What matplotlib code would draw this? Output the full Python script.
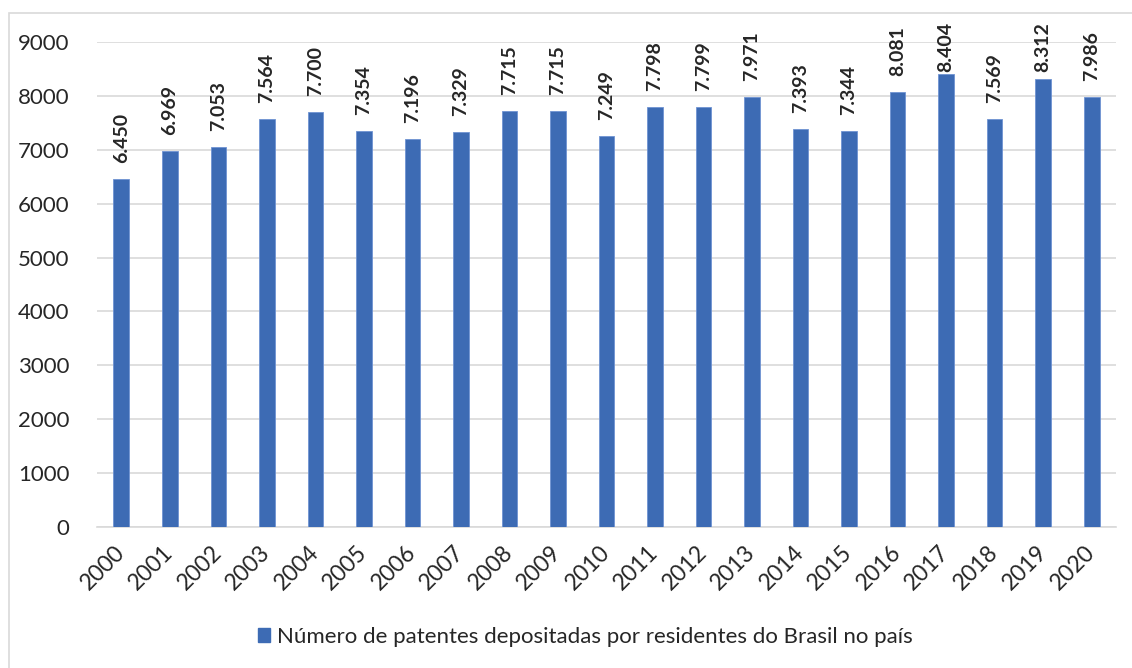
import matplotlib
matplotlib.use("Agg")
import matplotlib.pyplot as plt
import matplotlib.patches as mpatches
import numpy as np

plt.rcParams['font.family'] = ['Lato', 'DejaVu Sans']

# data
years = [str(y) for y in range(2000, 2021)]
patentes = [6450, 6969, 7053, 7564, 7700, 7354, 7196, 7329, 7715, 7715,
            7249, 7798, 7799, 7971, 7393, 7344, 8081, 8404, 7569, 8312, 7986]
legend_label = "Número de patentes depositadas por residentes do Brasil no país"
yticks = [0, 1000, 2000, 3000, 4000, 5000, 6000, 7000, 8000, 9000]

BAR_COLOR = "#3D6BB4"
GRID_COLOR = "#d9d9d9"
TEXT_COLOR = "#262626"

W, H = 1132, 668
DPI = 100
fig = plt.figure(figsize=(W / DPI, H / DPI), dpi=DPI)

# outer chart frame (only left & top edges visible in the reference)
fig.add_artist(mpatches.Rectangle((9 / W, -0.05), 1.2, 1 - 13 / H + 0.05,
                                  transform=fig.transFigure, fill=False,
                                  edgecolor=GRID_COLOR, linewidth=1.2))

ax = fig.add_axes([97 / W, 1 - 527 / H, (1116 - 97) / W, (527 - 42) / H])

x = np.arange(len(years))
bars = ax.bar(x, patentes, width=0.32, color=BAR_COLOR,
              edgecolor="#6f93d2", linewidth=0.6, zorder=3)

labels = []
for xi, v in zip(x, patentes):
    t = ax.annotate(f"{v:,}".replace(",", "."), (xi, v), xytext=(0, 11.5),
                    textcoords="offset points", rotation=90, ha="center",
                    va="bottom", fontsize=14, fontweight="bold",
                    color=TEXT_COLOR)
    labels.append(t)

ax.set_xlim(-0.5, len(years) - 0.5)
ax.set_ylim(0, 9000)
ax.set_yticks(yticks)
ax.set_yticklabels([str(t) for t in yticks], fontsize=16, color=TEXT_COLOR)
ax.set_xticks(x)
ax.set_xticklabels(years, rotation=45, ha="right", va="center",
                   rotation_mode="anchor", fontsize=16.5, color=TEXT_COLOR)
ax.tick_params(axis="both", length=0)
ax.tick_params(axis="y", pad=20)
ax.tick_params(axis="x", pad=16)

ax.grid(axis="y", color=GRID_COLOR, linewidth=1.2, zorder=0)
for side in ["top", "right", "left"]:
    ax.spines[side].set_visible(False)
ax.spines["bottom"].set_color(GRID_COLOR)
ax.spines["bottom"].set_linewidth(1.2)

handle = mpatches.Patch(color=BAR_COLOR, label=legend_label)
fig.legend(handles=[handle], loc="center", bbox_to_anchor=(585 / W, 1 - 637 / H),
           frameon=False, fontsize=16, handlelength=0.55, handleheight=0.55,
           handletextpad=0.3, labelcolor=TEXT_COLOR)

# like Excel, keep the data labels inside the chart area (top limit ~22px)
fig.canvas.draw()
renderer = fig.canvas.get_renderer()
top_limit = H - 22
for t in labels:
    bb = t.get_window_extent(renderer)
    if bb.y1 > top_limit:
        shift_pt = (bb.y1 - top_limit) * 72 / DPI
        ox, oy = t.xyann
        t.xyann = (ox, oy - shift_pt)

fig.savefig("out.png", dpi=DPI)
